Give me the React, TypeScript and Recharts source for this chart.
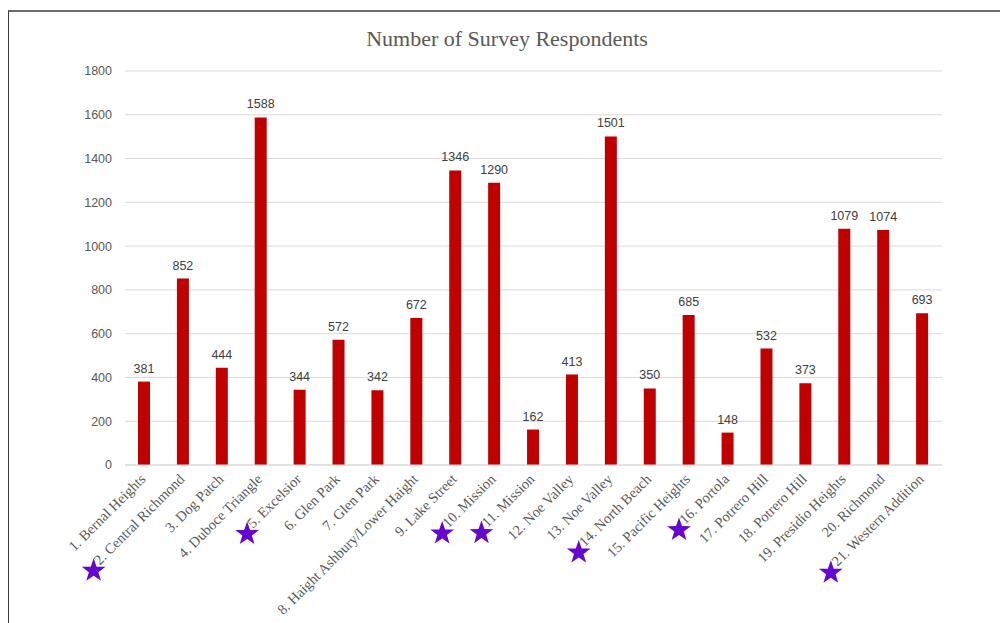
import React from "react";
import { BarChart, Bar, XAxis, YAxis, CartesianGrid, LabelList } from "recharts";

const categories = [
  "1. Bernal Heights",
  "2. Central Richmond",
  "3. Dog Patch",
  "4. Duboce Triangle",
  "5. Excelsior",
  "6. Glen Park",
  "7. Glen Park",
  "8. Haight Ashbury/Lower Haight",
  "9. Lake Street",
  "10. Mission",
  "11. Mission",
  "12. Noe Valley",
  "13. Noe Valley",
  "14. North Beach",
  "15. Pacific Heights",
  "16. Portola",
  "17. Potrero Hill",
  "18. Potrero Hill",
  "19. Presidio Heights",
  "20. Richmond",
  "21. Western Addition",
];

const respondents = [381, 852, 444, 1588, 344, 572, 342, 672, 1346, 1290, 162, 413, 1501, 350, 685, 148, 532, 373, 1079, 1074, 693];

const starredCategories = [
  "2. Central Richmond",
  "5. Excelsior",
  "10. Mission",
  "11. Mission",
  "14. North Beach",
  "16. Portola",
  "21. Western Addition",
];

const yTicks = [0, 200, 400, 600, 800, 1000, 1200, 1400, 1600, 1800];

const data = categories.map((name, i) => ({ name, value: respondents[i] }));

const TICK_SIZE = 14.5;
const TICK_FONT = `${TICK_SIZE}px "Liberation Serif"`;
let measureCtx: CanvasRenderingContext2D | null = null;
function measure(text: string): number {
  if (!measureCtx) {
    const c = document.createElement("canvas");
    measureCtx = c.getContext("2d");
  }
  if (!measureCtx) return text.length * 7;
  measureCtx.font = TICK_FONT;
  return measureCtx.measureText(text).width;
}

function starPoints(cx: number, cy: number, R: number): string {
  const r = R * 0.4;
  const pts: string[] = [];
  for (let k = 0; k < 10; k++) {
    const ang = -Math.PI / 2 + (k * Math.PI) / 5;
    const rad = k % 2 === 0 ? R : r;
    pts.push(`${(cx + rad * Math.cos(ang)).toFixed(2)},${(cy + rad * Math.sin(ang)).toFixed(2)}`);
  }
  return pts.join(" ");
}

const XTick = (props: any) => {
  const { x, y, payload } = props;
  const label = String(payload.value);
  const ax = x + 2;
  const ay = y + 15;
  const w = measure(label);
  const d = w / Math.SQRT2;
  const isStar = starredCategories.includes(label);
  return (
    <g>
      <text
        x={ax}
        y={ay}
        textAnchor="end"
        transform={`rotate(-45, ${ax}, ${ay})`}
        fontFamily='"Liberation Serif", serif'
        fontSize={TICK_SIZE}
        fill="#595959"
      >
        {label}
      </text>
      {isStar && <polygon points={starPoints(ax - d - 6, ay + d + 5, 12.5)} fill="#6606CF" />}
    </g>
  );
};

export default function App() {
  return (
    <div style={{ position: "absolute", left: 0, top: 0, width: 1000, height: 623, background: "#fff", overflow: "hidden" }}>
      <div
        style={{
          position: "absolute",
          left: 8,
          top: 10,
          width: 992,
          height: 613,
          borderTop: "2px solid #6b6b6b",
          borderLeft: "1.5px solid #3a3a3a",
          boxSizing: "border-box",
        }}
      />
      <div
        style={{
          position: "absolute",
          left: 0,
          width: 1014,
          top: 26,
          textAlign: "center",
          fontFamily: '"Liberation Serif", serif',
          fontSize: 22,
          color: "#595959",
          lineHeight: "26px",
        }}
      >
        Number of Survey Respondents
      </div>
      <div style={{ position: "absolute", left: 0, top: 0 }}>
        <BarChart width={1000} height={623} data={data} margin={{ top: 71, right: 58, bottom: 0, left: 0 }}>
          <CartesianGrid vertical={false} stroke="#d9d9d9" />
          <XAxis
            dataKey="name"
            interval={0}
            tickLine={false}
            tickSize={0}
            tickMargin={0}
            height={158}
            axisLine={{ stroke: "#d9d9d9" }}
            tick={<XTick />}
          />
          <YAxis
            domain={[0, 1800]}
            ticks={yTicks}
            width={125}
            axisLine={false}
            tickLine={false}
            tickSize={0}
            tickMargin={13}
            tick={{ fill: "#595959", fontSize: 12.5, fontFamily: '"Liberation Sans", sans-serif' }}
          />
          <Bar dataKey="value" fill="#C00000" barSize={12} isAnimationActive={false}>
            <LabelList
              dataKey="value"
              position="top"
              offset={9}
              fill="#404040"
              fontSize={12.5}
              fontFamily='"Liberation Sans", sans-serif'
            />
          </Bar>
        </BarChart>
      </div>
    </div>
  );
}
